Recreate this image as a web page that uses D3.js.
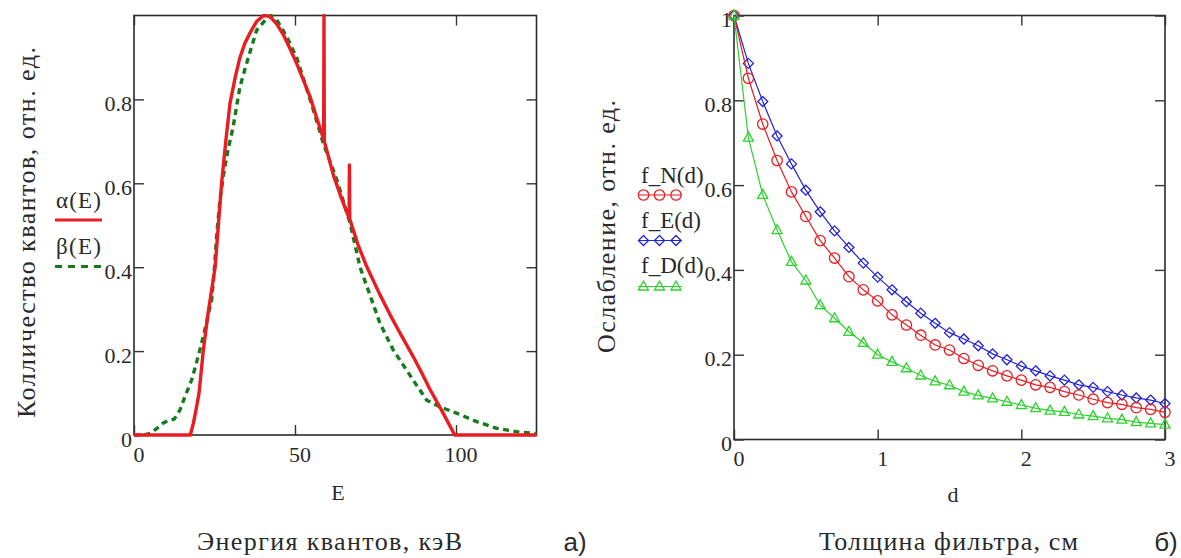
<!DOCTYPE html>
<html>
<head>
<meta charset="utf-8">
<script src="https://cdn.jsdelivr.net/npm/d3@7"></script>
<style>
  html, body { margin: 0; padding: 0; background: #fff; }
  svg { display: block; }
  text { font-family: "Liberation Serif", "Times New Roman", Times, serif; fill: #2a2a2a; }
  text.sans { font-family: "Liberation Sans", Arial, sans-serif; }
</style>
</head>
<body>
<svg id="chart" width="1181" height="558"></svg>
<script>
// ---- Panel а: X-ray spectrum, normalised photon count vs energy (keV) ----
const energyAlpha = [0, 17.5, 18.5, 19.5, 20.2, 21.5, 23, 24.2, 25.2, 26.2, 27.2, 28.5, 29.8, 31.5, 32.9, 34.5, 36, 38, 40.2,
  42.2, 44.3, 46.4, 48.5, 50.5, 52.6, 54.7, 56.7, 58.9, 59.0, 59.1, 60, 61.9, 64.3, 66.8, 66.9, 67.0, 69.5, 72.3, 76.4,
  79.5, 82.6, 86.7, 89.5, 91.9, 95.8, 99.6, 125];
const alphaValues = [0, 0, 0.03, 0.07, 0.10, 0.20, 0.29, 0.35, 0.40, 0.50, 0.60, 0.70, 0.79, 0.855, 0.90, 0.935, 0.958, 0.985, 1.0,
  0.998, 0.98, 0.954, 0.92, 0.886, 0.846, 0.806, 0.757, 0.705, 1.0, 0.70, 0.675, 0.62, 0.567, 0.517, 0.644, 0.515, 0.455, 0.401, 0.334,
  0.287, 0.243, 0.187, 0.146, 0.109, 0.055, 0, 0];

const energyBeta = [0, 3, 5, 7, 9, 10.5, 12.5, 14.3, 16, 17.9, 19.5, 21.5, 23, 24.1, 25, 25.7, 26.7, 27.7, 29.2, 30.8, 32.9,
  35.5, 38.1, 41.2, 42.5, 44.3, 47.4, 50.5, 53.1, 55.7, 58.8, 63, 67.1, 70.2, 76.4, 80.5, 86.7, 90.9, 95, 100.2, 106.4,
  112.6, 118.8, 124, 125];
const betaValues = [0, 0, 0.004, 0.015, 0.028, 0.034, 0.038, 0.06, 0.095, 0.131, 0.175, 0.234, 0.285, 0.32, 0.40, 0.48, 0.56,
  0.616, 0.68, 0.735, 0.83, 0.90, 0.965, 0.993, 1.0, 0.99, 0.95, 0.90, 0.838, 0.775, 0.695, 0.608, 0.505, 0.40, 0.266, 0.203,
  0.131, 0.083, 0.067, 0.052, 0.032, 0.016, 0.008, 0.004, 0.003];

const spectrumXTicks = [0, 50, 100];
const spectrumYTicks = [0, 0.2, 0.4, 0.6, 0.8];

// ---- Panel б: attenuation vs filter thickness (cm) ----
const thickness = [0, 0.1, 0.2, 0.3, 0.4, 0.5, 0.6, 0.7, 0.8, 0.9, 1.0, 1.1, 1.2, 1.3, 1.4, 1.5, 1.6, 1.7, 1.8, 1.9, 2.0,
  2.1, 2.2, 2.3, 2.4, 2.5, 2.6, 2.7, 2.8, 2.9, 3.0];
const fN = [1, 0.852, 0.744, 0.658, 0.584, 0.526, 0.469, 0.428, 0.384, 0.353, 0.327, 0.294, 0.270, 0.246, 0.223, 0.211,
  0.191, 0.175, 0.162, 0.150, 0.140, 0.129, 0.123, 0.113, 0.105, 0.095, 0.087, 0.083, 0.075, 0.071, 0.064];
const fE = [1, 0.887, 0.797, 0.716, 0.650, 0.588, 0.537, 0.492, 0.453, 0.416, 0.383, 0.353, 0.325, 0.298, 0.274, 0.252,
  0.237, 0.221, 0.202, 0.188, 0.173, 0.162, 0.150, 0.140, 0.129, 0.123, 0.113, 0.105, 0.098, 0.093, 0.085];
const fD = [1, 0.712, 0.577, 0.494, 0.419, 0.375, 0.317, 0.286, 0.254, 0.228, 0.200, 0.183, 0.168, 0.151, 0.137, 0.128,
  0.113, 0.104, 0.097, 0.089, 0.081, 0.074, 0.068, 0.065, 0.059, 0.055, 0.050, 0.047, 0.041, 0.038, 0.035];

const filterXTicks = [0, 1, 2, 3];
const filterYTicks = [0, 0.2, 0.4, 0.6, 0.8, 1];

const RED = "#ea1c22", GREEN_DARK = "#147a1c", BLUE = "#2222d8", GREEN = "#2ed12e";

const svg = d3.select("#chart");
const TICK = 10, FONT = 22, LEGEND_FONT = 23, TITLE_FONT = 26;

// Text helper; an optional length spreads the letters the way the worksheet renders them
function label(g, x, y, str, size, opts = {}) {
  const t = g.append("text")
    .attr("font-size", size)
    .attr("text-anchor", opts.anchor || "start")
    .text(str);
  if (opts.sans) t.attr("class", "sans");
  if (opts.rotate) t.attr("transform", `translate(${x},${y}) rotate(${opts.rotate})`);
  else t.attr("x", x).attr("y", y);
  if (opts.length) t.attr("textLength", opts.length).attr("lengthAdjust", "spacing");
  return t;
}

// Box frame with inward ticks on all four sides and labels on left/bottom
function frame(g, x, y, xTicks, yTicks, fmtX, fmtY) {
  const [x0, x1] = x.range(), [y1, y0] = y.range();
  const inner = g.append("g");
  inner.append("g").attr("transform", `translate(0,${y1})`)
    .call(d3.axisBottom(x).tickValues(xTicks).tickSizeInner(-TICK).tickSizeOuter(0).tickFormat(fmtX));
  inner.append("g").attr("transform", `translate(0,${y0})`)
    .call(d3.axisTop(x).tickValues(xTicks).tickSizeInner(-TICK).tickSizeOuter(0).tickFormat(""));
  inner.append("g").attr("transform", `translate(${x0},0)`)
    .call(d3.axisLeft(y).tickValues(yTicks).tickSizeInner(-TICK).tickSizeOuter(0).tickFormat(fmtY));
  inner.append("g").attr("transform", `translate(${x1},0)`)
    .call(d3.axisRight(y).tickValues(yTicks).tickSizeInner(-TICK).tickSizeOuter(0).tickFormat(""));
  inner.selectAll(".domain").remove();
  inner.selectAll("g").attr("font-family", null).attr("font-size", null);
  inner.selectAll(".tick line").attr("stroke", "#333").attr("stroke-width", 1.4);
  inner.selectAll("text").attr("font-size", FONT).attr("fill", "#333");
  inner.selectAll("g.tick text").each(function () {
    const t = d3.select(this);
    if (t.attr("dy") === "0.71em") t.attr("transform", "translate(4.5,8)");
    else t.attr("transform", "translate(1,4)");
  });
  return inner;
}

function border(g, x, y) {
  const [x0, x1] = x.range(), [y1, y0] = y.range();
  g.append("rect").attr("x", x0).attr("y", y0).attr("width", x1 - x0).attr("height", y1 - y0)
    .attr("fill", "none").attr("stroke", "#2b2b2b").attr("stroke-width", 1.6);
}

// ================= Panel а =================
{
  const x = d3.scaleLinear().domain([0, 125]).range([134, 536.5]);
  const y = d3.scaleLinear().domain([0, 1]).range([435, 15.5]);
  const g = svg.append("g");
  border(g, x, y);
  frame(g, x, y, spectrumXTicks, spectrumYTicks, d3.format("d"), d => d === 0 ? "0" : d3.format(".1f")(d));

  g.append("defs").append("clipPath").attr("id", "clipA")
    .append("rect").attr("x", 134).attr("y", 14).attr("width", 403).attr("height", 423);

  const line = d3.line().x(d => x(d[0])).y(d => y(d[1]));
  g.append("path").attr("clip-path", "url(#clipA)")
    .attr("d", line(energyBeta.map((e, i) => [e, betaValues[i]])))
    .attr("fill", "none").attr("stroke", GREEN_DARK).attr("stroke-width", 3.4)
    .attr("stroke-dasharray", "6,4.5");
  g.append("path").attr("clip-path", "url(#clipA)")
    .attr("d", line(energyAlpha.map((e, i) => [e, alphaValues[i]])))
    .attr("fill", "none").attr("stroke", RED).attr("stroke-width", 3.4).attr("stroke-linejoin", "round");

  // legend
  label(g, 56, 208, "α(E)", LEGEND_FONT, { length: 45 });
  g.append("line").attr("x1", 55).attr("x2", 102).attr("y1", 220).attr("y2", 220)
    .attr("stroke", RED).attr("stroke-width", 3.2);
  label(g, 56, 254, "β(E)", LEGEND_FONT, { length: 45 });
  g.append("line").attr("x1", 55).attr("x2", 102).attr("y1", 266.5).attr("y2", 266.5)
    .attr("stroke", GREEN_DARK).attr("stroke-width", 3).attr("stroke-dasharray", "7,6");

  // axis variable and titles
  label(g, 338, 500, "E", FONT, { anchor: "middle" });
  label(g, 197, 550, "Энергия квантов, кэВ", TITLE_FONT, { length: 265 });
  label(g, 35, 418, "Колличество квантов, отн. ед.", TITLE_FONT, { rotate: -90, length: 371 });
  label(g, 575, 551, "а)", 26, { anchor: "middle", sans: true });
}

// ================= Panel б =================
{
  const x = d3.scaleLinear().domain([0, 3]).range([734, 1165]);
  const y = d3.scaleLinear().domain([0, 1]).range([439.5, 15.5]);
  const g = svg.append("g");
  border(g, x, y);
  frame(g, x, y, filterXTicks, filterYTicks, d3.format("d"), d => (d === 0 || d === 1) ? String(d) : d3.format(".1f")(d));

  const pts = vals => thickness.map((d, i) => [d, vals[i]]);
  const line = d3.line().x(d => x(d[0])).y(d => y(d[1]));

  const diamond = "M0,-5L5,0L0,5L-5,0Z";
  const triangle = "M0,-5.5L5,3.5L-5,3.5Z";

  const series = [
    { vals: fE, color: BLUE, mark: "diamond" },
    { vals: fN, color: RED, mark: "circle" },
    { vals: fD, color: GREEN, mark: "triangle" }
  ];

  function drawMark(sel, kind, color) {
    if (kind === "circle") {
      sel.append("circle").attr("r", 5.2).attr("fill", "none").attr("stroke", color).attr("stroke-width", 1.3);
    } else {
      sel.append("path").attr("d", kind === "diamond" ? diamond : triangle)
        .attr("fill", "none").attr("stroke", color).attr("stroke-width", 1.3);
    }
  }

  series.forEach(s => {
    g.append("path").attr("d", line(pts(s.vals))).attr("fill", "none")
      .attr("stroke", s.color).attr("stroke-width", 1.2);
    g.append("g").selectAll("g").data(pts(s.vals)).join("g")
      .attr("transform", d => `translate(${x(d[0])},${y(d[1])})`)
      .each(function () { drawMark(d3.select(this), s.mark, s.color); });
  });

  // legend
  const legend = [
    { label: "f_N(d)", ty: 183, ly: 195, color: RED, mark: "circle" },
    { label: "f_E(d)", ty: 228, ly: 240.5, color: BLUE, mark: "diamond" },
    { label: "f_D(d)", ty: 273, ly: 286.5, color: GREEN, mark: "triangle" }
  ];
  legend.forEach(L => {
    label(g, 641, L.ty, L.label, LEGEND_FONT);
    g.append("line").attr("x1", 638).attr("x2", 682).attr("y1", L.ly).attr("y2", L.ly)
      .attr("stroke", L.color).attr("stroke-width", 1.2);
    [643.5, 659.5, 676].forEach(cx => {
      const m = g.append("g").attr("transform", `translate(${cx},${L.ly})`);
      drawMark(m, L.mark, L.color);
    });
  });

  label(g, 953, 502, "d", FONT, { anchor: "middle" });
  label(g, 819, 550, "Толщина фильтра, см", TITLE_FONT, { length: 259 });
  label(g, 615, 353, "Ослабление, отн. ед.", TITLE_FONT, { rotate: -90, length: 253 });
  label(g, 1166, 551, "б)", 26, { anchor: "middle", sans: true });
}
</script>
</body>
</html>
